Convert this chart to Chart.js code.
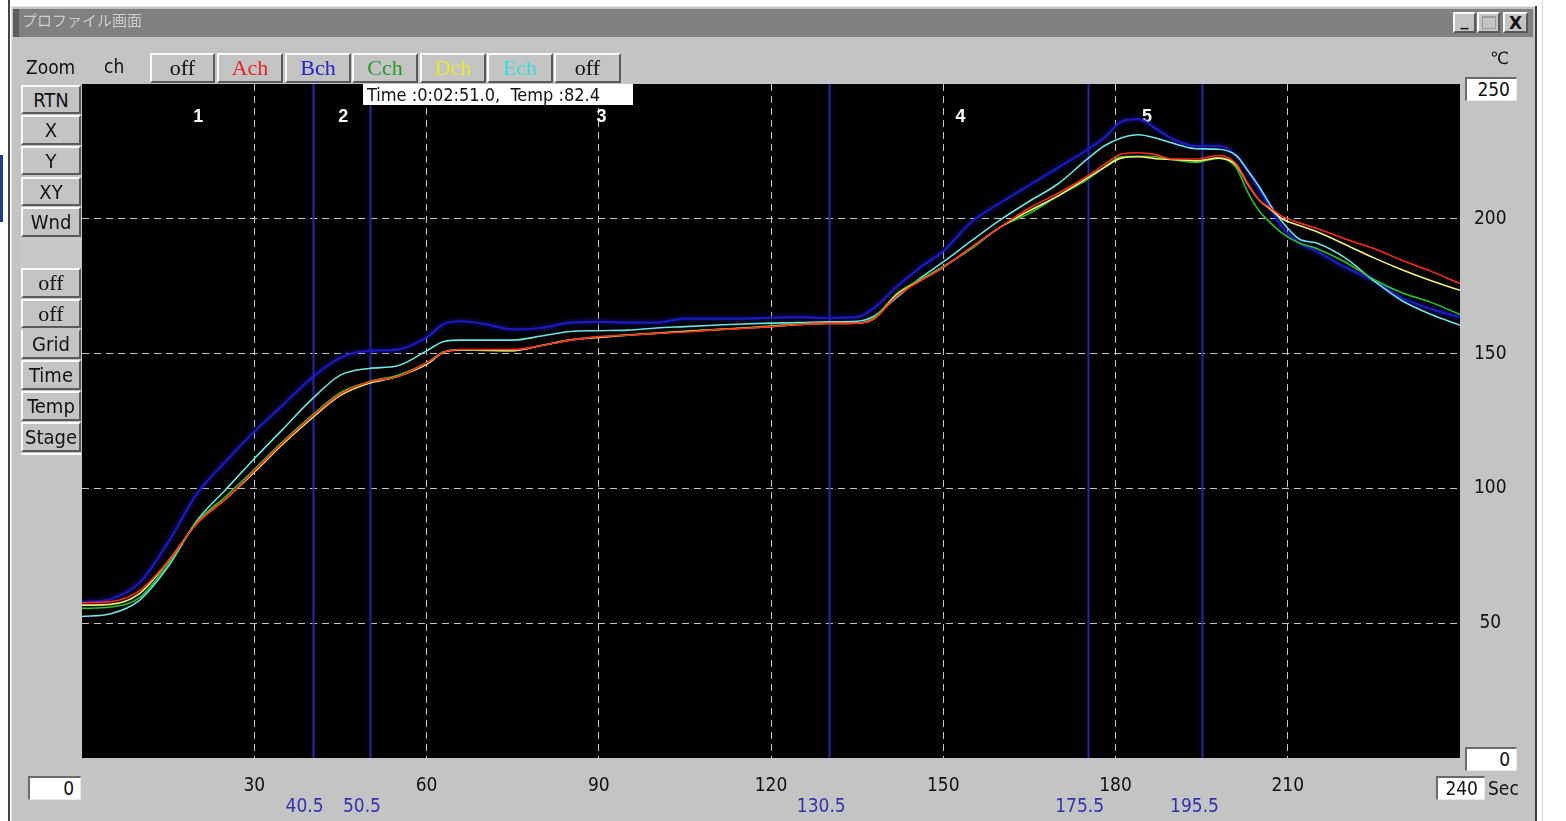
<!DOCTYPE html>
<html><head><meta charset="utf-8">
<script src="https://cdn.jsdelivr.net/npm/chart.js@4.4.1/dist/chart.umd.min.js"></script>
<style>
html,body{margin:0;padding:0;width:1566px;height:821px;overflow:hidden;background:#fff;}
.a{position:absolute;box-sizing:border-box;}
.btn{position:absolute;box-sizing:border-box;background:#c4c4c4;border-top:2px solid #fbfbfb;border-left:2px solid #fbfbfb;border-right:2px solid #5a5a5a;border-bottom:2px solid #5a5a5a;display:flex;align-items:center;justify-content:center;font:20px 'Liberation Sans Narrow','DejaVu Sans Condensed',sans-serif;color:#111;z-index:3;}
.serif{font:22px 'Liberation Serif','DejaVu Serif',serif;}
.txt{position:absolute;z-index:3;font:19px 'Liberation Sans Narrow','DejaVu Sans Condensed',sans-serif;color:#111;white-space:nowrap;}
.box{position:absolute;box-sizing:border-box;background:#fff;border-top:2px solid #6a6a6a;border-left:2px solid #6a6a6a;border-right:1px solid #e8e8e8;border-bottom:1px solid #e8e8e8;z-index:3;text-align:right;padding-right:6px;font:19px 'Liberation Sans Narrow','DejaVu Sans Condensed',sans-serif;color:#111;}
#c{position:absolute;left:0;top:0;z-index:2;}
</style></head>
<body>
<!-- frame / window chrome -->
<div class="a" style="left:0;top:155px;width:3px;height:67px;background:#1c3c8c;"></div>
<div class="a" style="left:8px;top:0;width:2px;height:821px;background:#454545;"></div>
<div class="a" style="left:11px;top:6px;width:1526px;height:815px;background:#c4c4c4;border-top:1px solid #e6e6e6;border-left:1px solid #e6e6e6;z-index:1;"></div>
<div class="a" style="left:1535px;top:6px;width:2px;height:815px;background:#3c3c3c;z-index:1;"></div>
<div class="a" style="left:1542px;top:0;width:1px;height:821px;background:#d8d8d8;"></div>
<div class="a" style="left:13px;top:9px;width:1520px;height:28px;background:#808080;z-index:1;"></div>
<div class="a" style="left:13px;top:9px;width:6px;height:28px;background:#5e5e5e;z-index:1;"></div>
<div class="txt" style="left:22px;top:9px;line-height:28px;font:15px 'Noto Sans CJK JP',sans-serif;color:#cdcdcd;">プロファイル画面</div>
<div class="btn" style="left:1453px;top:12px;width:23px;height:21px;font:bold 16px 'DejaVu Sans',sans-serif;align-items:flex-end;padding-bottom:1px;">_</div>
<div class="btn" style="left:1477px;top:12px;width:23px;height:21px;"><div style="width:12px;height:10px;border:1px solid #9a9a9a;border-top:2px solid #9a9a9a;"></div></div>
<div class="btn" style="left:1503px;top:12px;width:25px;height:21px;font:bold 17px 'DejaVu Sans',sans-serif;">X</div>

<!-- toolbar -->
<div class="txt" style="left:26px;top:56px;">Zoom</div>
<div class="txt" style="left:104px;top:55px;">ch</div>
<div class="btn serif" style="left:150px;top:53px;width:65px;height:30px;">off</div>
<div class="btn serif" style="left:217px;top:53px;width:66px;height:30px;color:#e02828;">Ach</div>
<div class="btn serif" style="left:285px;top:53px;width:66px;height:30px;color:#2424c8;">Bch</div>
<div class="btn serif" style="left:352px;top:53px;width:66px;height:30px;color:#2a9a2a;">Cch</div>
<div class="btn serif" style="left:420px;top:53px;width:66px;height:30px;color:#e8e830;">Dch</div>
<div class="btn serif" style="left:487px;top:53px;width:66px;height:30px;color:#38dede;">Ech</div>
<div class="btn serif" style="left:554px;top:53px;width:67px;height:30px;">off</div>

<!-- left buttons -->
<div class="btn" style="left:21px;top:85px;width:60px;height:29px;">RTN</div>
<div class="btn" style="left:21px;top:115px;width:60px;height:30px;">X</div>
<div class="btn" style="left:21px;top:146px;width:60px;height:29px;">Y</div>
<div class="btn" style="left:21px;top:177px;width:60px;height:29px;">XY</div>
<div class="btn" style="left:21px;top:207px;width:60px;height:30px;">Wnd</div>
<div class="a" style="left:21px;top:238px;width:60px;height:29px;background:#c8c8c8;z-index:3;"></div>
<div class="btn serif" style="left:21px;top:268px;width:60px;height:30px;">off</div>
<div class="btn serif" style="left:21px;top:299px;width:60px;height:29px;">off</div>
<div class="btn" style="left:21px;top:329px;width:60px;height:30px;border-top-color:#c4c4c4;">Grid</div>
<div class="btn" style="left:21px;top:360px;width:60px;height:30px;">Time</div>
<div class="btn" style="left:21px;top:391px;width:60px;height:30px;">Temp</div>
<div class="btn" style="left:21px;top:422px;width:60px;height:30px;">Stage</div>
<div class="a" style="left:21px;top:453px;width:60px;height:2px;background:#fbfbfb;z-index:3;"></div>

<!-- readout -->
<div class="a" style="left:363px;top:84px;width:270px;height:21px;background:#fff;z-index:3;"></div>
<div class="txt" style="left:367px;top:84px;line-height:21px;font-size:18px;">Time :0:02:51.0,&nbsp; Temp :82.4</div>

<!-- right side -->
<div class="txt" style="left:1490px;top:48px;font:17px 'DejaVu Sans',sans-serif;">℃</div>
<div class="box" style="left:1465px;top:77px;width:52px;height:24px;line-height:21px;">250</div>
<div class="box" style="left:1465px;top:747px;width:52px;height:24px;line-height:21px;">0</div>
<div class="box" style="left:1436px;top:776px;width:49px;height:24px;line-height:21px;">240</div>
<div class="txt" style="left:1488px;top:777px;font-size:19px;">Sec</div>
<div class="box" style="left:28px;top:776px;width:53px;height:24px;line-height:21px;">0</div>

<canvas id="c" width="1566" height="821"></canvas>
<script>
// ---- data ----
const times = [0,5,10,15,20,25,30,35,40,45, 50,55,60,63,66,70,75,80,85,90, 95,100,105,110,115,120,125,130,135,138, 142,146,150,155,160,165,170,175,178,181, 184,187,190,194,198,201,203,205,207,209, 212,215,220,225,230,235,240];
const chA = [57.6,58,62,73,87,96,106.5,117,126.5,135, 139.5,141.5,146.5,150.5,151.5,151.5,151.5,153,155,156.3, 156.8,157.5,158,158.8,159.3,160,160.8,161.2,161.3,163, 171.5,177,182,189.5,197,204,209.5,215.7,220,224, 224.5,223.8,222.2,222.2,223.5,220.5,213.3,207,204,201, 198.5,196.5,192.5,189,184.5,180.5,176];
const chB = [57.8,59,65,80,98,110,121,131,141,148.5, 151,151.5,156,161,162,161,159,159.5,161.5,161.8, 161.5,161.5,163,163,163,163.3,163.5,163.2,163.5,167, 175,182,188,199,206,212.5,219,225.5,230,236, 237,233.5,229.5,227,227,223.5,218,211,204,197, 191,188,182,177,170.5,166.5,163.5];
const chC = [55.5,56,59.5,72,87.5,97,107,117.5,127,135.5, 139.6,142,146.5,150.7,151.4,151.2,151.1,153,155.1,156.2, 157,157.6,158.3,158.9,159.5,160.3,161,161.3,161.3,163.5, 172.4,177.5,182.3,189,197,202,208.5,214.5,219,223, 223.2,223,221.9,220.9,222.5,219,210,203,198.5,194.7, 191,189,184,177.5,172.5,169,164.5];
const chD = [56.7,57,61,73,87,96,106,116.5,126,134.5, 139,141.5,146,150.5,151.4,151.3,151.1,153,155,156, 156.8,157.5,158.2,158.8,159.4,160,160.8,161.2,161.3,163, 172,177,182,189.5,197,203,208.5,215,219,222.5, 223,222.3,222,221.5,222.5,220,213,207,203.5,200, 197.5,195.3,190.5,185.5,181,177,173.5];
const chE = [52.5,53.5,58.5,71,88,99.5,111,122,133,142, 144.5,145.5,151,154.5,155,155,155,156.5,158.2,158.5, 158.7,159.5,160,160.5,161,161.3,161.5,161.8,162,164, 171,178,184,192,199.7,206.5,213,222,227,230, 231.2,230,228,226,225.8,223.5,218,212,205,199, 192.5,191,185.5,177,169.5,164.5,160.5];
const stageBounds = [40.5, 50.5, 130.5, 175.5, 195.5];
const stageNames = ['1','2','3','4','5'];
const xRange = [0, 240];
const yRange = [0, 250];
const xStep = 30, yStep = 50;

const FONT = "'Liberation Sans Narrow','DejaVu Sans Condensed',sans-serif";
const pts = arr => arr.map((v,i)=>({x:times[i], y:v}));

const bgPlugin = {
  id:'bg',
  beforeDraw(chart){
    const {ctx, chartArea:a} = chart;
    ctx.save(); ctx.fillStyle='#000';
    ctx.fillRect(a.left, a.top, a.right-a.left, a.bottom-a.top);
    ctx.restore();
  }
};
const glowPlugin = {
  id:'glow',
  beforeDatasetDraw(chart, args){
    const ctx = chart.ctx;
    ctx.save();
    if (args.meta.label === 'Bch') { ctx.shadowColor='rgba(30,30,190,0.9)'; ctx.shadowBlur=5; }
  },
  afterDatasetDraw(chart){ chart.ctx.restore(); }
};
const stagePlugin = {
  id:'stages',
  beforeDatasetsDraw(chart){
    const {ctx, chartArea:a, scales:{x}} = chart;
    ctx.save();
    ctx.strokeStyle='#2626aa'; ctx.lineWidth=2;
    stageBounds.forEach(b=>{
      const px = Math.round(x.getPixelForValue(b)) - 1.5;
      ctx.beginPath(); ctx.moveTo(px, a.top); ctx.lineTo(px, a.bottom); ctx.stroke();
    });
    const edges = [xRange[0], ...stageBounds];
    ctx.fillStyle='#fff'; ctx.font="bold 18px 'Liberation Sans','DejaVu Sans',sans-serif";
    ctx.textAlign='center'; ctx.textBaseline='middle';
    stageNames.forEach((n,i)=>{
      ctx.fillText(n, x.getPixelForValue((edges[i]+edges[i+1])/2), a.top+33);
    });
    ctx.fillStyle='#3232b0'; ctx.font="19px "+FONT;
    stageBounds.forEach(b=>{
      ctx.fillText(String(b), x.getPixelForValue(b)-10, a.bottom+49);
    });
    ctx.restore();
  }
};

const hideEdge = (lo,hi,col) => c => (c.tick && (c.tick.value===lo || c.tick.value===hi)) ? 'rgba(0,0,0,0)' : col;

new Chart(document.getElementById('c'), {
  type:'line',
  data:{ datasets:[
    {label:'Ach', data:pts(chA), borderColor:'#ff2a1a', borderWidth:1.6},
    {label:'Dch', data:pts(chD), borderColor:'#f2f07a', borderWidth:1.6},
    {label:'Cch', data:pts(chC), borderColor:'#28c428', borderWidth:1.6},
    {label:'Ech', data:pts(chE), borderColor:'#6fe4e4', borderWidth:1.6},
    {label:'Bch', data:pts(chB), borderColor:'#1a1ac4', borderWidth:2.2},
  ].map(d=>Object.assign(d,{pointRadius:0, fill:false, cubicInterpolationMode:'monotone'}))},
  options:{
    responsive:false, animation:false,
    layout:{ padding:{left:82, top:84, right:0, bottom:0}, autoPadding:false },
    plugins:{ legend:{display:false}, tooltip:{enabled:false} },
    scales:{
      x:{ type:'linear', min:xRange[0], max:xRange[1],
          afterFit(s){ s.height = 63; },
          border:{display:false, dash:[7,5]},
          grid:{ color:hideEdge(xRange[0],xRange[1],'#c4c4c4'), drawTicks:false, lineWidth:1 },
          ticks:{ stepSize:xStep, padding:17, color:'#111', font:{family:FONT, size:19},
                  maxRotation:0, autoSkip:false,
                  callback:v => (v===xRange[0]||v===xRange[1]) ? '' : String(v) } },
      y:{ type:'linear', position:'right', min:yRange[0], max:yRange[1],
          afterFit(s){ s.width = 106; },
          border:{display:false, dash:[7,5]},
          grid:{ color:hideEdge(yRange[0],yRange[1],'#c4c4c4'), drawTicks:false, lineWidth:1 },
          ticks:{ stepSize:yStep, padding:14, crossAlign:'center', color:'#111', font:{family:FONT, size:19},
                  callback:v => (v===yRange[0]||v===yRange[1]) ? '' : String(v) } }
    }
  },
  plugins:[bgPlugin, stagePlugin, glowPlugin]
});
</script>
</body></html>
